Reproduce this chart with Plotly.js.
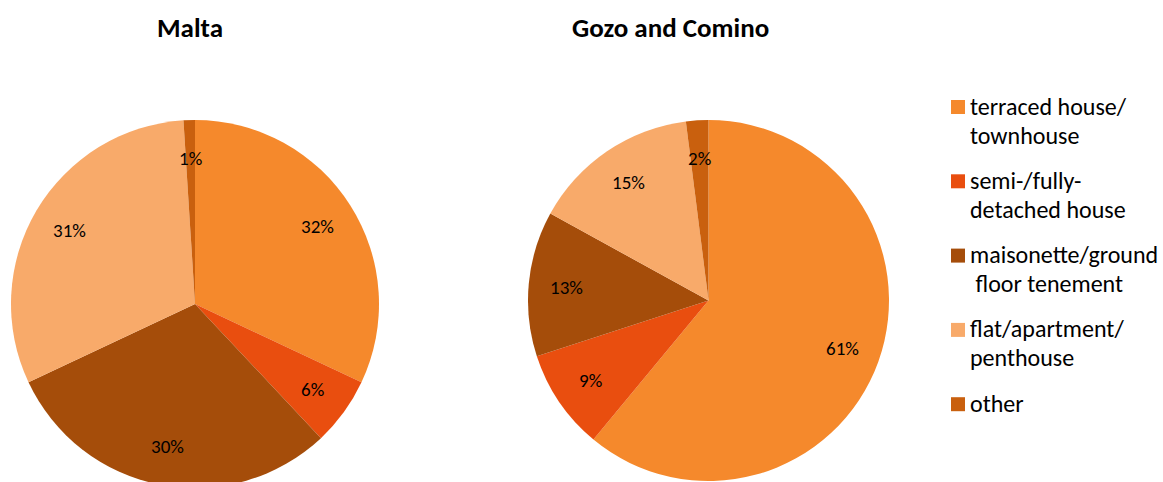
<!DOCTYPE html>
<html>
<head>
<meta charset="utf-8">
<script src="https://cdn.plot.ly/plotly-3.0.1.min.js"></script>
<style>
html,body{margin:0;padding:0;overflow:hidden;background:#fff;}
#chart{width:1163px;height:492px;}
</style>
</head>
<body>
<div id="chart"></div>
<script>
const categories = ['terraced house/<br>townhouse', 'semi-/fully-<br>detached house', 'maisonette/ground<br> floor tenement', 'flat/apartment/<br>penthouse', 'other'];
const maltaValues = [32, 6, 30, 31, 1];
const gozoValues = [61, 9, 13, 15, 2];
const pieTitles = ['Malta', 'Gozo and Comino'];
const colors = ['#F5892C', '#E94E0F', '#A54D0A', '#F8AA6A', '#C9600E'];

const W = 1163, H = 492;
const FONT = 'Carlito, Lato, "Open Sans", sans-serif';

// pie geometry (pixels): center x, center y, radius
const geo = [
  {cx: 195, cy: 304, r: 184},
  {cx: 708.5, cy: 300.5, r: 180.5}
];

function domainOf(g){
  return {
    x: [(g.cx - g.r) / W, (g.cx + g.r) / W],
    y: [(H - (g.cy + g.r)) / H, (H - (g.cy - g.r)) / H]
  };
}

const seriesList = [maltaValues, gozoValues];

const traces = seriesList.map((vals, i) => ({
  type: 'pie',
  labels: categories,
  values: vals,
  sort: false,
  direction: 'clockwise',
  rotation: 0,
  textinfo: 'none',
  marker: {colors: colors, line: {width: 0}},
  domain: domainOf(geo[i]),
  showlegend: false,
  hoverinfo: 'label+percent'
}));

const annotations = [];
const shapes = [];
// percentage labels, placed at the middle angle of each slice
seriesList.forEach((vals, i) => {
  const g = geo[i];
  const total = vals.reduce((a, b) => a + b, 0);
  let cum = 0;
  vals.forEach(v => {
    const mid = (cum + v / 2) / total;
    cum += v;
    const ang = mid * 2 * Math.PI;
    const rr = 0.79 * g.r;
    const px = g.cx + rr * Math.sin(ang);
    const py = g.cy - rr * Math.cos(ang);
    annotations.push({
      x: px / W, y: 1 - py / H, xref: 'paper', yref: 'paper',
      text: Math.round(v / total * 100) + '%',
      showarrow: false, xanchor: 'center', yanchor: 'middle',
      font: {family: FONT, size: 19, color: '#000'}
    });
  });
});

// chart titles
const titlePos = [190, 670];
pieTitles.forEach((t, i) => {
  annotations.push({
    x: titlePos[i] / W, y: 1 - 28 / H, xref: 'paper', yref: 'paper',
    text: '<b>' + t + '</b>', showarrow: false, xanchor: 'center', yanchor: 'middle',
    font: {family: FONT, size: 27, color: '#000'}
  });
});

// legend (drawn as squares + text)
const legTop = 107, legStep = 74.3, lineStep = 29;
categories.forEach((lab, k) => {
  const cy = legTop + k * legStep;
  shapes.push({
    type: 'rect', xref: 'paper', yref: 'paper',
    x0: 951 / W, x1: 965 / W, y0: 1 - (cy + 7) / H, y1: 1 - (cy - 7) / H,
    fillcolor: colors[k], line: {width: 0}
  });
  lab.split('<br>').forEach((ln, j) => {
    annotations.push({
      x: 968 / W, y: 1 - (cy + j * lineStep - 1) / H, xref: 'paper', yref: 'paper',
      text: ln, showarrow: false, xanchor: 'left', yanchor: 'middle',
      font: {family: FONT, size: 24, color: '#000'}
    });
  });
});

const layout = {
  width: W, height: H,
  margin: {l: 0, r: 0, t: 0, b: 0},
  paper_bgcolor: '#fff',
  showlegend: false,
  annotations: annotations,
  shapes: shapes
};

Plotly.newPlot('chart', traces, layout, {displayModeBar: false, staticPlot: true});
</script>
</body>
</html>
